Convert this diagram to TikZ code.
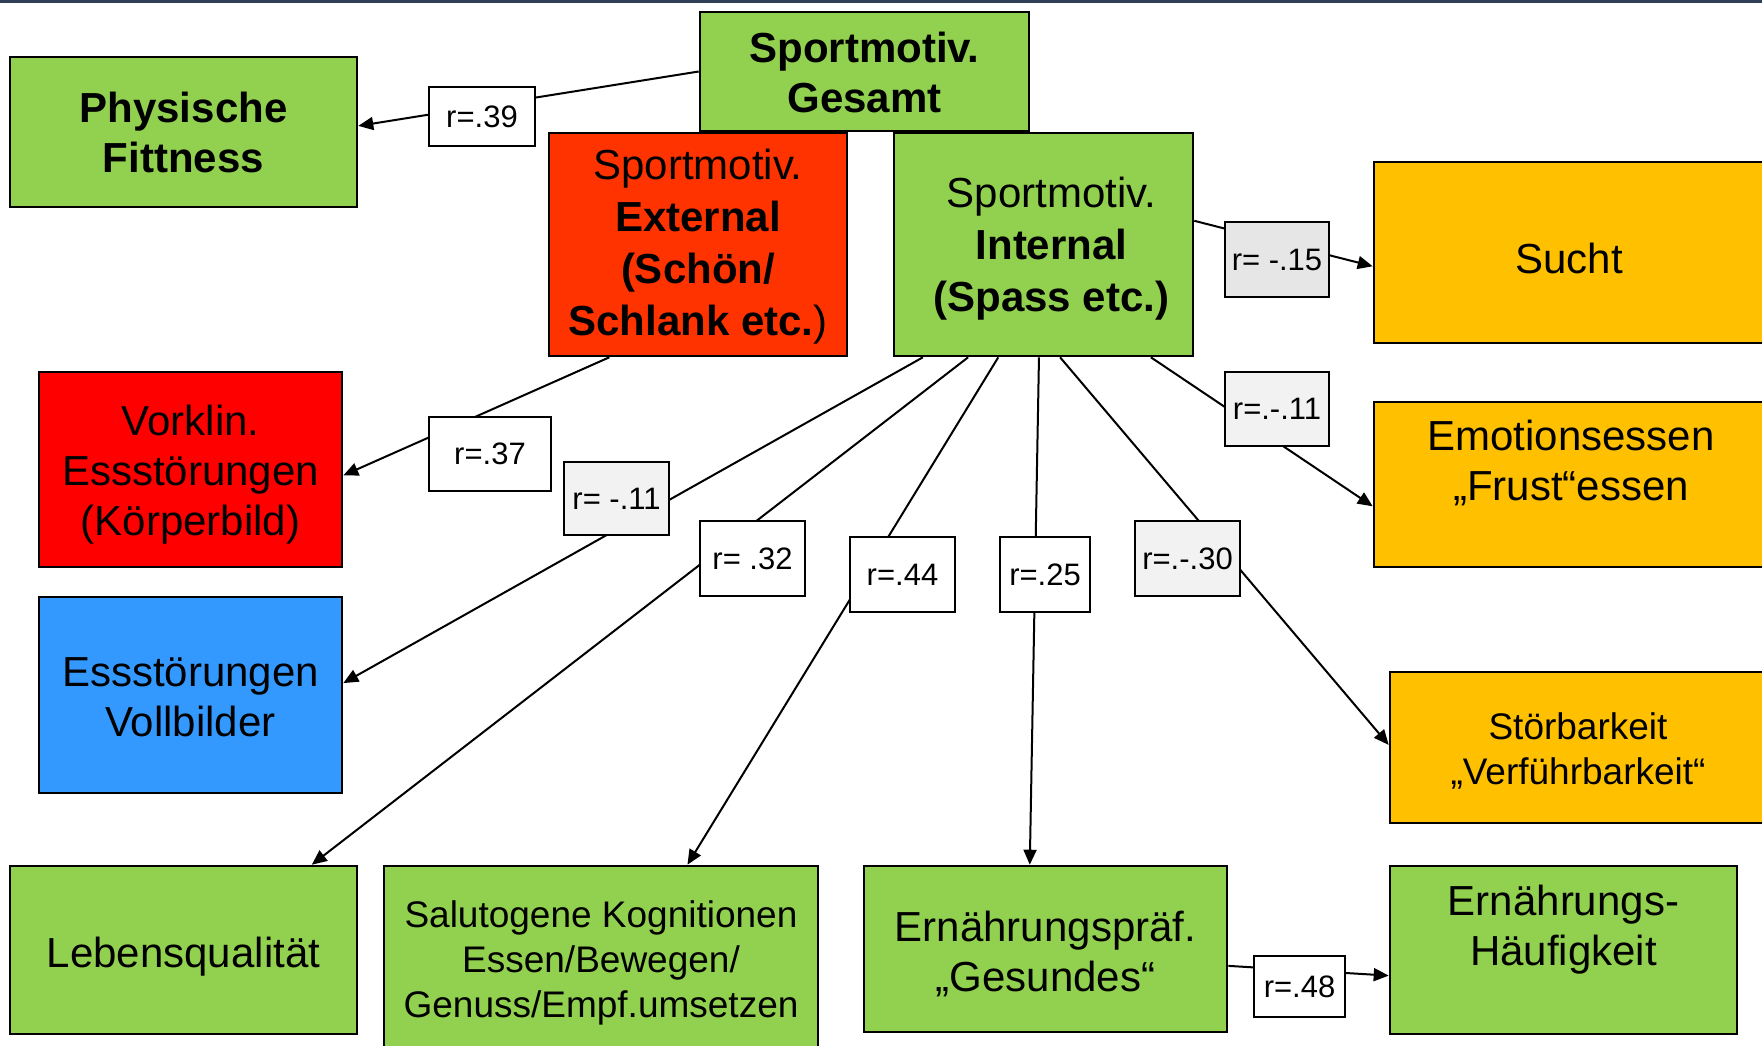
\documentclass[tikz,border=0pt]{standalone}
\usepackage{fontspec}
\setmainfont{Liberation Sans}
\usetikzlibrary{arrows.meta,calc}
\definecolor{grn}{HTML}{92D050}
\definecolor{redA}{HTML}{FF3300}
\definecolor{redB}{HTML}{FF0000}
\definecolor{blu}{HTML}{3399FF}
\definecolor{org}{HTML}{FFC000}
\definecolor{gryA}{HTML}{F2F2F2}
\definecolor{gryB}{HTML}{E6E6E6}
\definecolor{band}{HTML}{2E3F56}
\begin{document}
\begin{tikzpicture}[x=0.5pt,y=-0.5pt,
  box/.style={draw=black, line width=1.3pt, inner sep=0pt},
  txt/.style={inner sep=0pt, align=center, font=\fontsize{21}{25}\selectfont},
  wtxt/.style={txt, font=\fontsize{21}{26}\selectfont},
  btxt/.style={txt, font=\fontsize{21}{25}\selectfont\bfseries},
  stxt/.style={txt, font=\fontsize{18.5}{22.5}\selectfont},
  lbl/.style={draw=black, fill=white, line width=1.1pt, inner sep=0pt,
    font=\fontsize{15.5}{18}\selectfont},
  conn/.style={line width=1pt, -{Triangle[length=7.5pt,width=6.5pt]}}]
\useasboundingbox (0,0) rectangle (1762,1045);
\fill[band] (0,0) rectangle (1762,3);

% boxes
\node[box, fill=grn, minimum width=164.5pt, minimum height=59.5pt] (ges) at (864.5,71.5) {};
\node[btxt] (gesT) at ($(ges.center)+(0,1)$) {Sportmotiv.\\Gesamt};
\node[box, fill=grn, minimum width=173.5pt, minimum height=75pt] (phy) at (183.5,132) {};
\node[btxt] (phyT) at ($(phy.center)+(0,0)$) {Physische\\Fittness};
\node[box, fill=redA, minimum width=149pt, minimum height=111.5pt] (ext) at (698,244.5) {};
\node[wtxt] (extT) at ($(ext.center)+(0,2.5)$)
  {Sportmotiv.\\\textbf{External}\\\textbf{(Schön/}\\\textbf{Schlank etc.})};
\node[box, fill=grn, minimum width=149.5pt, minimum height=111.5pt] (int) at (1043.5,244.5) {};
\node[wtxt] (intT) at ($(int.center)+(8,4.5)$)
  {Sportmotiv.\\\textbf{Internal}\\\textbf{(Spass etc.)}};
\node[box, fill=org, minimum width=199pt, minimum height=90.5pt] (sucht) at (1573,252.5) {};
\node[txt] (suchtT) at ($(sucht.center)+(-4,5.5)$) {Sucht};
\node[box, fill=org, minimum width=199pt, minimum height=82.5pt] (emo) at (1573,484.5) {};
\node[txt] (emoT) at (1571,463) {Emotionsessen\\„Frust“essen};
\node[box, fill=org, minimum width=191pt, minimum height=75.5pt] (stoer) at (1581,747.5) {};
\node[stxt] (stoerT) at ($(stoer.center)+(-3,3.5)$) {Störbarkeit\\„Verführbarkeit“};
\node[box, fill=redB, minimum width=151.5pt, minimum height=97.5pt] (vork) at (190.5,469.5) {};
\node[txt] (vorkT) at ($(vork.center)+(0,5.5)$) {Vorklin.\\Essstörungen\\(Körperbild)};
\node[box, fill=blu, minimum width=151.5pt, minimum height=98pt] (voll) at (190.5,695) {};
\node[txt] (vollT) at ($(voll.center)+(0,2.5)$) {Essstörungen\\Vollbilder};
\node[box, fill=grn, minimum width=173.5pt, minimum height=84pt] (leb) at (183.5,950) {};
\node[txt] (lebT) at ($(leb.center)+(0,6.5)$) {Lebensqualität};
\node[box, fill=grn, minimum width=217pt, minimum height=96pt] (salu) at (601,962) {};
\node[stxt] (saluT) at (601,962.5) {Salutogene Kognitionen\\Essen/Bewegen/\\Genuss/Empf.umsetzen};
\node[box, fill=grn, minimum width=181.5pt, minimum height=83pt] (praef) at (1045.5,949) {};
\node[txt] (praefT) at ($(praef.center)+(0,4.5)$) {Ernährungspräf.\\„Gesundes“};
\node[box, fill=grn, minimum width=173.5pt, minimum height=84pt] (haeuf) at (1563.5,950) {};
\node[txt] (haeufT) at (1563.5,929.5) {Ernährungs-\\Häufigkeit};

% connectors
\draw[conn] (ges.west) -- ($(phy.north east)!0.46!(phy.south east)$);
\draw[conn] ($(ext.south west)!0.205!(ext.south east)$) -- ($(vork.north east)!0.53!(vork.south east)$);
\draw[conn] ($(int.south west)!0.10!(int.south east)$) -- ($(voll.north east)!0.44!(voll.south east)$);
\draw[conn] ($(int.south west)!0.25!(int.south east)$) -- ($(leb.north west)!0.867!(leb.north east)$);
\draw[conn] ($(int.south west)!0.35!(int.south east)$) -- ($(salu.north west)!0.698!(salu.north east)$);
\draw[conn] ($(int.south west)!0.485!(int.south east)$) -- ($(praef.north west)!0.457!(praef.north east)$);
\draw[conn] ($(int.south west)!0.555!(int.south east)$) -- ($(stoer.north west)!0.483!(stoer.south west)$);
\draw[conn] ($(int.south west)!0.856!(int.south east)$) -- ($(emo.north west)!0.63!(emo.south west)$);
\draw[conn] ($(int.north east)!0.395!(int.south east)$) -- ($(sucht.north west)!0.575!(sucht.south west)$);
\draw[conn] ($(praef.north east)!0.6!(praef.south east)$) -- ($(haeuf.north west)!0.65!(haeuf.south west)$);

% labels
\node[lbl, minimum width=53pt, minimum height=29.5pt] (l39) at (482,116.5) {r=.39};
\node[lbl, minimum width=61pt, minimum height=37pt] (l37) at (490,454) {r=.37};
\node[lbl, fill=gryA, minimum width=52.5pt, minimum height=36.5pt] (l11a) at (616.5,498.5) {r= -.11};
\node[lbl, minimum width=52.5pt, minimum height=37.5pt] (l32) at (752.5,558.5) {r= .32};
\node[lbl, minimum width=52.5pt, minimum height=37.5pt] (l44) at (902.5,574.5) {r=.44};
\node[lbl, minimum width=45pt, minimum height=37.5pt] (l25) at (1045,574.5) {r=.25};
\node[lbl, fill=gryA, minimum width=52.5pt, minimum height=37.5pt] (l30) at (1187.5,558.5) {r=.-.30};
\node[lbl, fill=gryB, minimum width=52pt, minimum height=37.5pt] (l15) at (1277,259.5) {r= -.15};
\node[lbl, fill=gryA, minimum width=52pt, minimum height=37pt] (l11b) at (1277,409) {r=.-.11};
\node[lbl, minimum width=45.5pt, minimum height=30.5pt] (l48) at (1299.5,986.5) {r=.48};
\end{tikzpicture}
\end{document}
